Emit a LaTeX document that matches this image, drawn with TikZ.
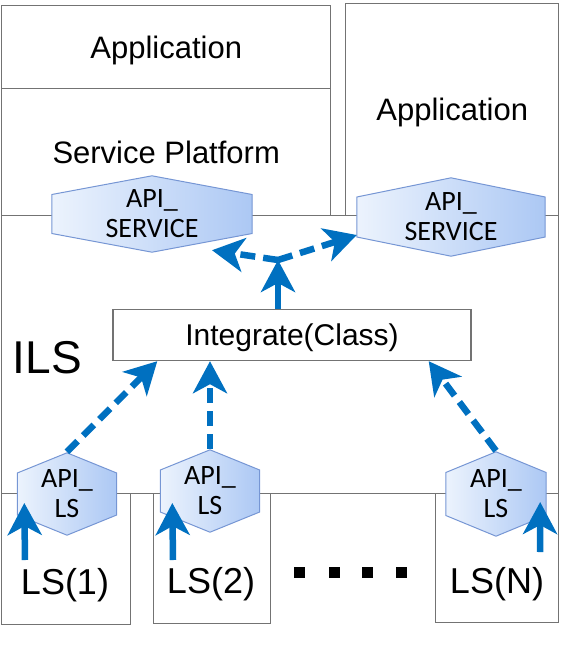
\documentclass[tikz,border=0pt]{standalone}
\usepackage{fontspec}
\setmainfont{Liberation Sans}
\newfontfamily\hexfont{Carlito}
\usetikzlibrary{arrows.meta,calc}

\definecolor{boxgray}{RGB}{115,115,115}
\definecolor{flowblue}{RGB}{0,112,192}
\definecolor{hexedge}{RGB}{118,150,212}
\definecolor{hexlight}{RGB}{236,243,253}
\definecolor{hexdark}{RGB}{172,200,244}

\begin{document}
\begin{tikzpicture}[x=1pt,y=-1pt]
            \tikzstyle{layer}=[draw=boxgray,line width=1.4pt,inner sep=0pt,anchor=north west,text depth=0pt,font=\fontsize{31}{37}\selectfont]
            \tikzstyle{lsname}=[anchor=base,font=\fontsize{36}{42}\selectfont]
            \tikzstyle{apihex}=[inner sep=0pt,align=center,font=\hexfont\fontsize{28}{30}\selectfont,
              path picture={
                \coordinate (hn) at ($(path picture bounding box.north)+(0,0.8)$);
                \coordinate (hne) at ($(path picture bounding box.north east)!0.25!(path picture bounding box.south east)+(-0.8,0)$);
                \coordinate (hse) at ($(path picture bounding box.south east)!0.25!(path picture bounding box.north east)+(-0.8,0)$);
                \coordinate (hs) at ($(path picture bounding box.south)+(0,-0.8)$);
                \coordinate (hsw) at ($(path picture bounding box.south west)!0.25!(path picture bounding box.north west)+(0.8,0)$);
                \coordinate (hnw) at ($(path picture bounding box.north west)!0.25!(path picture bounding box.south west)+(0.8,0)$);
                \draw[draw=hexedge,line width=1pt,left color=hexlight,right color=hexdark]
                  (hn) -- (hne) -- (hse) -- (hs) -- (hsw) -- (hnw) -- cycle;
              }]
            \tikzstyle{flow}=[draw=flowblue,line width=6.5pt,dash pattern=on 15pt off 8pt,
              -{Stealth[length=32pt,width=34pt,inset=9pt]}]
            \tikzstyle{flowshort}=[flow,solid]

            \useasboundingbox (0,0) rectangle (564,646);

            % layers
            \node (apptop) at (1,5) [layer,minimum width=329pt,minimum height=83pt] {Application};
            \node (platform) at (1,88) [layer,minimum width=329pt,minimum height=127pt] {Service Platform};
            \node (appright) at (345,3) [layer,minimum width=213pt,minimum height=212pt] {Application};
            \node (ils) at (1,215) [layer,minimum width=557pt,minimum height=278pt] {};
            \node (ilsname) at (47.5,373) [anchor=base,font=\fontsize{46}{52}\selectfont] {ILS};
            \node (integ) at (292,335) [layer,anchor=center,minimum width=358pt,minimum height=51pt,
              font=\fontsize{30}{36}\selectfont] {Integrate(Class)};

            % local services
            \node (lsbox1) at (1,493) [layer,minimum width=129pt,minimum height=131pt] {};
            \node (lsbox2) at (153,493) [layer,minimum width=117pt,minimum height=130pt] {};
            \node (lsboxn) at (435,493) [layer,minimum width=123pt,minimum height=129pt] {};
            \node (lsname1) at (65,594) [lsname] {LS(1)};
            \node (lsname2) at (211,593) [lsname] {LS(2)};
            \node (lsnamen) at (497,593) [lsname] {LS(N)};
            \foreach \x in {299,334,367,401}
              \fill (\x-5.5,566.5) rectangle ++(11,11);

            % interfaces
            \node (svc1) at (152,214) [apihex,minimum width=202pt,minimum height=78pt] {API\_\\SERVICE};
            \node (svc2) at (451,217) [apihex,minimum width=190pt,minimum height=80pt] {API\_\\SERVICE};
            \node (api1) at (67,494) [apihex,minimum width=101pt,minimum height=84pt] {API\_\\LS};
            \node (api2) at (210,491) [apihex,minimum width=101pt,minimum height=84pt] {API\_\\LS};
            \node (apin) at (496,494) [apihex,minimum width=102pt,minimum height=86pt] {API\_\\LS};

            \coordinate (hub) at (278,260);
            \coordinate (in1) at (25,560);
            \coordinate (in2) at (173,560);
            \coordinate (inn) at (540,552);

            \draw[flowshort] ([xshift=-14pt]integ.north) to (hub);
            \draw[flow] (hub) to ([xshift=60pt,yshift=3pt]svc1.south);
            \draw[flow] (hub) to ([xshift=1pt,yshift=-18pt]svc2.west);
            \draw[flow] (api1.north) to ([xshift=45pt]integ.south west);
            \draw[flow] (api2.north) to (api2.north |- integ.south);
            \draw[flow] (apin.north) to ([xshift=-43pt]integ.south east);
            \draw[flowshort] (in1) to ([xshift=8pt,yshift=-9pt]api1.west);
            \draw[flowshort] (in2) to ([xshift=13pt,yshift=-12pt]api2.west);
            \draw[flowshort] (inn) to ([xshift=-7pt,yshift=-8pt]apin.east);
          \end{tikzpicture}
\end{document}
